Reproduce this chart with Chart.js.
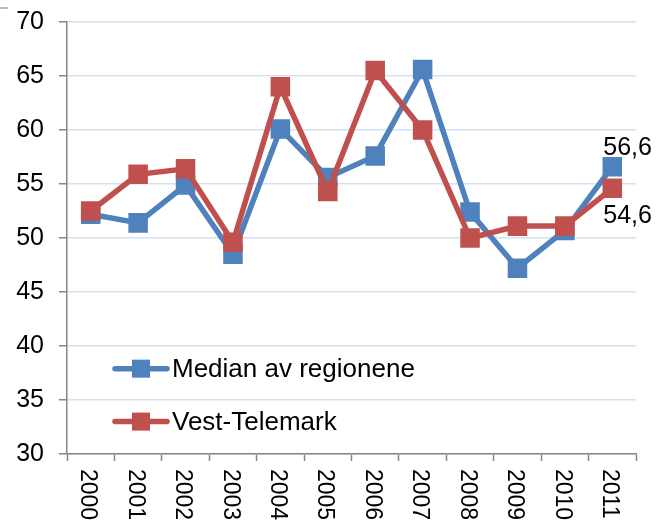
<!DOCTYPE html>
<html>
<head>
<meta charset="utf-8">
<script src="https://cdn.jsdelivr.net/npm/chart.js@4/dist/chart.umd.min.js"></script>
<style>
  html, body { margin: 0; padding: 0; background: #ffffff; }
  #wrap { width: 656px; height: 522px; position: relative; }
</style>
</head>
<body>
<div id="wrap"><canvas id="c" width="656" height="522"></canvas></div>
<script>
// Årstall og verdier
const years = ['2000','2001','2002','2003','2004','2005','2006','2007','2008','2009','2010','2011'];
const medianValues = [52.2, 51.4, 54.9, 48.5, 60.1, 55.6, 57.6, 65.6, 52.4, 47.2, 50.7, 56.6];
const vestTelemarkValues = [52.5, 55.9, 56.4, 49.6, 64.0, 54.3, 65.5, 60.0, 50.0, 51.1, 51.1, 54.6];
const seriesNames = ['Median av regionene', 'Vest-Telemark'];
const yTicks = [30, 35, 40, 45, 50, 55, 60, 65, 70];

const BLUE = '#4F81BD';
const RED = '#C0504D';
const AXIS = '#868686';
const GRID = '#d6e1f0';
const FONT = '"Liberation Sans", Arial, sans-serif';

function fmt(v) { return v.toFixed(1).replace('.', ','); }

// Rotated year labels under the x axis (reading top to bottom)
const yearLabels = {
  id: 'yearLabels',
  afterDraw(chart) {
    const ctx = chart.ctx;
    const xs = chart.scales.x;
    ctx.save();
    ctx.fillStyle = '#000';
    ctx.font = '23px ' + FONT;
    ctx.textAlign = 'left';
    ctx.textBaseline = 'middle';
    years.forEach((y, i) => {
      const px = xs.getPixelForValue(i);
      ctx.save();
      ctx.translate(px - 3, xs.top + 15);
      ctx.rotate(Math.PI / 2);
      ctx.fillText(y, 0, 0);
      ctx.restore();
    });
    // short frame stub in the top-left corner
    ctx.strokeStyle = '#a6a6a6';
    ctx.lineWidth = 1.5;
    ctx.beginPath();
    ctx.moveTo(0, 8);
    ctx.lineTo(8, 8);
    ctx.stroke();
    ctx.restore();
  }
};

// Legend inside the plot: line with square marker + label
const insideLegend = {
  id: 'insideLegend',
  afterDraw(chart) {
    const ctx = chart.ctx;
    const ys = chart.scales.y;
    const items = [
      { name: seriesNames[0], color: BLUE, y: ys.getPixelForValue(37.9) },
      { name: seriesNames[1], color: RED, y: ys.getPixelForValue(33.0) }
    ];
    ctx.save();
    items.forEach(it => {
      ctx.strokeStyle = it.color;
      ctx.lineWidth = 5.5;
      ctx.lineCap = 'round';
      ctx.beginPath();
      ctx.moveTo(115, it.y);
      ctx.lineTo(167, it.y);
      ctx.stroke();
      ctx.fillStyle = it.color;
      ctx.fillRect(132, it.y - 9, 18, 18);
      ctx.fillStyle = '#000';
      ctx.font = '26px ' + FONT;
      ctx.textAlign = 'left';
      ctx.textBaseline = 'middle';
      ctx.fillText(it.name, 172, it.y + 1);
    });
    ctx.restore();
  }
};

// Value labels for the last year
const endLabels = {
  id: 'endLabels',
  afterDatasetsDraw(chart) {
    const ctx = chart.ctx;
    ctx.save();
    ctx.fillStyle = '#000';
    ctx.font = '25px ' + FONT;
    ctx.textAlign = 'left';
    ctx.textBaseline = 'alphabetic';
    const last = years.length - 1;
    const mB = chart.getDatasetMeta(0).data[last];
    const mR = chart.getDatasetMeta(1).data[last];
    ctx.fillText(fmt(medianValues[last]), mB.x - 9, mB.y - 12);
    ctx.fillText(fmt(vestTelemarkValues[last]), mR.x - 9, mR.y + 35);
    ctx.restore();
  }
};

new Chart(document.getElementById('c'), {
  type: 'line',
  data: {
    labels: years,
    datasets: [
      {
        label: seriesNames[0],
        data: medianValues,
        borderColor: BLUE,
        backgroundColor: BLUE,
        borderWidth: 5.5,
        pointStyle: 'rect',
        pointRadius: 13.8,
        pointBorderWidth: 0,
        pointBackgroundColor: BLUE,
        tension: 0,
        order: 2
      },
      {
        label: seriesNames[1],
        data: vestTelemarkValues,
        borderColor: RED,
        backgroundColor: RED,
        borderWidth: 5.5,
        pointStyle: 'rect',
        pointRadius: 13.8,
        pointBorderWidth: 0,
        pointBackgroundColor: RED,
        tension: 0,
        order: 1
      }
    ]
  },
  options: {
    responsive: false,
    animation: false,
    devicePixelRatio: 1,
    layout: { padding: { left: 0, top: 22, right: 20, bottom: 0 } },
    plugins: {
      legend: { display: false },
      tooltip: { enabled: false }
    },
    scales: {
      x: {
        type: 'category',
        offset: true,
        grid: {
          display: true,
          offset: true,
          drawOnChartArea: false,
          drawTicks: true,
          tickLength: 7,
          tickColor: AXIS,
          tickWidth: 1.5
        },
        border: { display: true, color: AXIS, width: 1.5 },
        ticks: { display: false },
        afterFit(scale) {
          scale.height = 68;
          scale.paddingLeft = 0;
          scale.paddingRight = 0;
        }
      },
      y: {
        min: 30,
        max: 70,
        afterBuildTicks(scale) { scale.ticks = yTicks.map(v => ({ value: v })); },
        grid: {
          color: GRID,
          lineWidth: 1.5,
          drawTicks: true,
          tickLength: 8,
          tickColor: AXIS,
          tickWidth: 1.5
        },
        border: { display: true, color: AXIS, width: 1.5 },
        ticks: {
          color: '#000',
          font: { family: FONT, size: 25 },
          padding: 15,
          callback: v => String(v)
        },
        afterFit(scale) {
          scale.width = 67;
          scale.paddingTop = 0;
          scale.paddingBottom = 0;
        }
      }
    }
  },
  plugins: [yearLabels, insideLegend, endLabels]
});
</script>
</body>
</html>
